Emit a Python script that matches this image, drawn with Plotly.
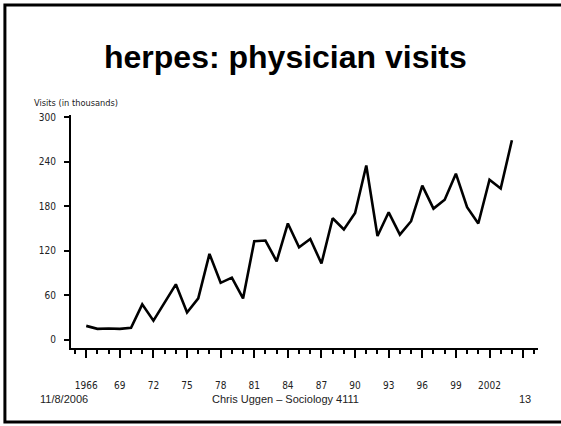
import plotly.graph_objects as go

# ---- data ----
years = list(range(1966, 2005))
visits = [19, 15, 15.5, 15, 16.5, 48, 26, 51, 75, 37, 56, 116, 77, 84, 56,
          133, 134, 106, 157, 125, 136, 103, 164, 149, 171, 235, 140, 172,
          142, 160, 208, 177, 189, 224, 179, 157, 216, 204, 269]
x_tick_vals = [1966, 1969, 1972, 1975, 1978, 1981, 1984, 1987, 1990, 1993, 1996, 1999, 2002, 2005]
x_tick_text = ["1966", "69", "72", "75", "78", "81", "84", "87", "90", "93", "96", "99", "2002", ""]
y_tick_vals = [0, 60, 120, 180, 240, 300]

title_text = "herpes: physician visits"
y_label = "Visits (in thousands)"
footer_left = "11/8/2006"
footer_mid = "Chris Uggen \u2013 Sociology 4111"
footer_right = "13"

# ---- geometry (pixels) ----
W, H = 561, 426
L, R, T, B = 70.7, 22.5, 115, 78
PW = W - L - R
PH = H - T - B


def px(x):
    return (x - L) / PW


def py(y):
    return (H - B - y) / PH


narrow = "DejaVu Sans Condensed, Liberation Sans Narrow, Arial Narrow, sans-serif"
sans = "Liberation Sans, Arial, sans-serif"

fig = go.Figure()
fig.add_trace(go.Scatter(x=years, y=visits, mode="lines",
                         line=dict(color="black", width=2.6),
                         showlegend=False, hoverinfo="skip"))

fig.update_layout(
    width=W, height=H,
    margin=dict(l=L, r=R, t=T, b=B, pad=0, autoexpand=False),
    paper_bgcolor="white", plot_bgcolor="white",
    xaxis=dict(range=[1964.64, 2006.33], showgrid=False, zeroline=False,
               showline=True, linecolor="black", linewidth=2,
               tickmode="array", tickvals=x_tick_vals, ticktext=x_tick_text,
               ticks="outside", ticklen=8, tickwidth=1.8, tickcolor="black",
               ticklabelstandoff=19,
               tickfont=dict(family=narrow, size=10, color="#222")),
    yaxis=dict(range=[-10.8, 303.1], showgrid=False, zeroline=False,
               showline=True, linecolor="black", linewidth=2,
               tickmode="array", tickvals=y_tick_vals,
               ticks="outside", ticklen=5, tickwidth=1.6, tickcolor="black",
               ticklabelstandoff=6,
               tickfont=dict(family=narrow, size=10, color="#222")),
    shapes=[dict(type="rect", xref="paper", yref="paper",
                 x0=px(4.5), x1=px(570), y0=py(422), y1=py(5),
                 line=dict(color="black", width=3), fillcolor="rgba(0,0,0,0)",
                 layer="above")],
    annotations=[
        dict(text="<b>" + title_text + "</b>", xref="paper", yref="paper",
             x=px(286), y=py(57), xanchor="center", yanchor="middle",
             showarrow=False, font=dict(family=sans, size=32, color="black")),
        dict(text=y_label, xref="paper", yref="paper",
             x=px(31.5), y=py(102), xanchor="left", yanchor="middle",
             showarrow=False, font=dict(family=narrow, size=9.2, color="#222")),
        dict(text=footer_left, xref="paper", yref="paper",
             x=px(38), y=py(399), xanchor="left", yanchor="middle",
             showarrow=False, font=dict(family=sans, size=11, color="#222")),
        dict(text=footer_mid, xref="paper", yref="paper",
             x=px(286), y=py(399), xanchor="center", yanchor="middle",
             showarrow=False, font=dict(family=sans, size=11, color="#222")),
        dict(text=footer_right, xref="paper", yref="paper",
             x=px(533), y=py(399), xanchor="right", yanchor="middle",
             showarrow=False, font=dict(family=sans, size=11, color="#222")),
    ],
)
fig.update_xaxes(minor=dict(dtick=1, tick0=1966, ticks="outside", ticklen=4,
                            tickwidth=1.5, tickcolor="black", showgrid=False))

fig.write_html("out.html", config={"displayModeBar": False},
               post_script="document.body.style.margin='0';document.body.style.overflow='hidden';")
